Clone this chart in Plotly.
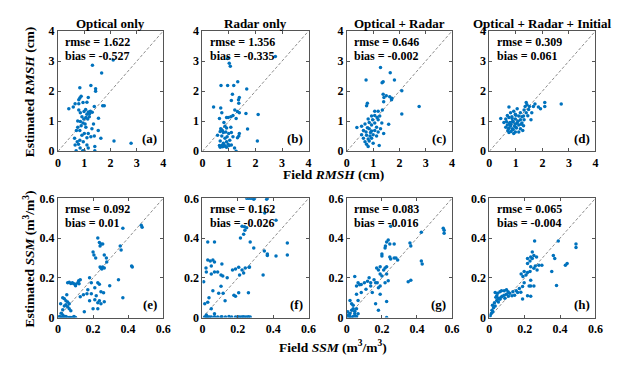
import plotly.graph_objects as go

# ---------------- data ----------------
panel_titles = ["Optical only", "Radar only", "Optical + Radar", "Optical + Radar + Initial"]
panel_tags = ["(a)", "(b)", "(c)", "(d)", "(e)", "(f)", "(g)", "(h)"]
rmse_vals = ["1.622", "1.356", "0.646", "0.309", "0.092", "0.162", "0.083", "0.065"]
bias_vals = ["-0.527", "-0.335", "-0.002", "0.061", "0.01", "-0.026", "-0.016", "-0.004"]

rmsh_ticks = [0, 1, 2, 3, 4]
rmsh_ticklabels = ["0", "1", "2", "3", "4"]
ssm_ticks = [0, 0.2, 0.4, 0.6]
ssm_ticklabels = ["0", "0.2", "0.4", "0.6"]
rmsh_range = [0, 4]
ssm_range = [0, 0.6]

a_x = [1.31,2.10,1.66,1.25,1.43,1.43,0.83,0.88,0.83,1.15,0.79,1.10,0.65,0.79,0.95,0.41,0.58,1.70,1.76,1.38,
       0.79,0.85,0.99,1.05,1.15,1.23,1.30,1.10,1.20,0.91,1.06,0.98,1.13,0.75,0.85,0.95,1.54,1.19,1.35,1.06,
       0.88,0.75,0.70,0.83,1.29,1.15,1.00,1.53,0.91,1.25,1.38,1.10,0.63,1.63,0.83,0.96,0.73,2.13,2.78,0.65,
       0.78,1.10,1.40,0.69,0.94,0.99,1.40,0.84,1.15,1.03]
a_y = [2.86,3.04,2.60,2.19,2.08,2.00,2.11,1.83,1.77,1.79,1.71,1.63,1.58,1.58,1.62,1.41,1.47,1.51,1.51,1.49,
       1.37,1.28,1.32,1.39,1.31,1.33,1.30,1.23,1.25,1.15,1.12,1.07,1.07,1.01,0.99,0.94,1.10,1.15,0.91,0.80,
       0.85,0.80,0.69,0.69,0.75,0.59,0.59,0.69,0.53,0.48,0.51,0.45,0.43,0.43,0.37,0.32,0.32,0.34,0.27,0.21,
       0.23,0.21,0.16,0.02,0.02,0.02,0.02,0.11,0.11,0.91]

b_x = [0.95,1.01,1.05,2.75,0.70,0.95,1.18,1.33,1.67,1.13,1.39,1.36,1.09,1.37,0.42,0.69,1.22,1.32,1.39,1.64,
       0.73,2.10,1.07,0.97,0.91,1.15,1.27,0.64,0.81,0.85,0.91,1.07,1.70,0.69,0.75,0.67,0.79,0.88,0.99,1.09,
       1.39,1.37,0.57,0.73,0.93,1.15,1.32,0.85,1.03,0.67,2.07,0.91,0.79,0.97,0.64,0.73,0.82,0.87,1.09,0.67,
       0.76,0.91,1.27,1.21,1.01]
b_y = [3.09,2.93,2.83,3.15,2.19,2.19,2.19,2.31,2.07,1.90,1.79,1.71,1.69,1.60,1.47,1.44,1.37,1.32,1.28,1.26,
       1.28,1.22,1.15,1.12,1.12,1.19,1.09,1.09,0.96,0.83,0.77,0.80,0.74,0.75,0.69,0.66,0.62,0.64,0.59,0.62,
       0.59,0.51,0.53,0.51,0.48,0.48,0.45,0.43,0.37,0.34,0.34,0.32,0.27,0.23,0.19,0.19,0.21,0.16,0.21,0.13,
       0.15,0.13,0.00,0.11,0.19]

c_x = [1.28,1.65,1.34,0.73,1.81,2.09,1.38,1.50,1.63,1.41,1.71,1.40,1.70,2.75,0.78,0.75,2.09,1.06,1.19,1.35,
       0.94,1.06,1.15,1.25,0.81,0.98,1.19,0.85,1.06,1.33,0.69,0.94,1.59,0.38,0.56,0.78,0.85,1.13,1.28,0.63,
       0.73,0.94,1.06,1.19,1.40,0.56,0.75,0.88,1.00,1.13,0.63,0.81,0.94,0.69,0.85,0.75,0.81,1.23,1.00,0.90,1.38]
c_y = [2.79,2.61,2.28,2.37,2.37,2.01,1.90,1.85,1.81,1.79,1.76,1.65,1.71,1.49,1.60,1.51,1.24,1.33,1.33,1.37,
       1.17,1.19,1.12,1.17,1.07,1.05,1.05,0.96,0.94,0.94,0.91,0.87,0.90,0.79,0.83,0.78,0.75,0.80,0.75,0.69,
       0.64,0.67,0.69,0.64,0.59,0.55,0.53,0.51,0.55,0.51,0.43,0.41,0.43,0.32,0.34,0.23,0.16,0.19,0.27,0.62,2.31]

d_x = [2.71,2.09,2.09,1.93,1.85,1.72,1.66,1.60,1.39,1.42,1.35,1.31,1.39,1.57,0.74,1.05,1.17,0.92,0.80,0.68,
       0.98,1.11,1.23,0.43,0.62,0.74,0.86,0.98,1.17,1.31,0.65,0.78,0.90,1.05,1.23,0.68,0.80,0.95,1.11,1.29,
       0.62,0.74,0.86,1.02,1.17,0.70,0.82,0.98,1.26,0.92,0.74,1.11,0.55,0.82,0.98,1.29,1.48,1.51,
       0.88,1.00,0.76,1.08,0.90,1.20,0.85,1.00,0.72,1.45]
d_y = [1.57,1.62,1.49,1.41,1.47,1.57,1.49,1.28,1.62,1.55,1.49,1.37,1.28,1.05,1.47,1.41,1.28,1.33,1.28,1.19,
       1.23,1.17,1.15,1.09,1.07,1.12,1.09,1.07,1.05,1.05,0.98,0.96,0.98,0.94,0.94,0.87,0.85,0.83,0.87,0.85,
       0.80,0.77,0.75,0.77,0.75,0.69,0.66,0.64,0.69,0.59,0.62,0.64,0.96,0.91,0.91,1.17,1.39,1.49,
       1.00,0.80,0.92,1.00,0.72,0.90,1.15,1.20,0.75,1.18]

e_x = [0.475,0.48,0.37,0.355,0.36,0.227,0.236,0.245,0.255,0.24,0.20,0.205,0.215,0.264,0.276,0.278,0.24,0.245,
       0.255,0.264,0.25,0.42,0.424,0.345,0.37,0.295,0.18,0.19,0.227,0.236,0.21,0.17,0.165,0.145,0.127,0.19,
       0.218,0.21,0.227,0.245,0.236,0.245,0.26,0.18,0.20,0.227,0.15,0.264,0.055,0.064,0.073,0.082,0.09,0.10,
       0.113,0.118,0.127,0.12,0.10,0.027,0.036,0.045,0.055,0.064,0.045,0.036,0.055,0.064,0.073,0.027,0.018,
       0.027,0.036,0.045,0.055,0.064,0.073,0.082,0.009,0.018,0.027,0.091,0.10,0.015,0.05]
e_y = [0.465,0.455,0.45,0.36,0.34,0.40,0.378,0.37,0.37,0.36,0.33,0.315,0.30,0.315,0.30,0.28,0.255,0.25,
       0.255,0.25,0.245,0.26,0.255,0.19,0.10,0.16,0.20,0.175,0.175,0.168,0.15,0.14,0.12,0.115,0.105,0.12,
       0.11,0.09,0.075,0.07,0.085,0.13,0.125,0.085,0.045,0.045,0.03,0.08,0.175,0.178,0.172,0.175,0.17,0.168,
       0.175,0.185,0.19,0.17,0.16,0.10,0.095,0.085,0.078,0.07,0.065,0.058,0.055,0.045,0.035,0.04,0.022,
       0.013,0.005,0.005,0.0,0.0,0.0,0.0,0.005,0.0,0.0,0.005,0.0,0.07,0.115]

f_x = [0.25,0.26,0.27,0.28,0.29,0.295,0.367,0.363,0.352,0.416,0.224,0.238,0.25,0.24,0.233,0.215,0.27,0.35,
       0.367,0.367,0.416,0.48,0.48,0.29,0.03,0.068,0.266,0.187,0.205,0.17,0.224,0.233,0.21,0.343,0.242,0.264,
       0.03,0.044,0.059,0.068,0.02,0.05,0.022,0.05,0.068,0.086,0.105,0.115,0.14,0.11,0.007,0.105,0.117,0.092,
       0.059,0.178,0.187,0.205,0.26,0.128,0.037,0.013,0.03,0.05,0.068,0.022,
       0.013,0.022,0.03,0.04,0.05,0.068,0.086,0.105,0.11,0.13,0.15,0.165,0.187,0.2,0.21,0.22,0.23,0.24,0.25,0.26,0.27]
f_y = [0.6,0.6,0.6,0.6,0.595,0.6,0.6,0.595,0.527,0.49,0.46,0.457,0.452,0.44,0.42,0.40,0.38,0.335,
       0.32,0.312,0.31,0.375,0.315,0.35,0.38,0.38,0.255,0.245,0.254,0.24,0.24,0.225,0.215,0.215,0.25,0.254,
       0.29,0.285,0.29,0.28,0.25,0.26,0.23,0.22,0.23,0.23,0.214,0.21,0.20,0.27,0.18,0.158,0.122,0.122,
       0.135,0.112,0.108,0.125,0.125,0.085,0.10,0.07,0.077,0.045,0.02,0.013,
       0.003,0.003,0.004,0.003,0.003,0.004,0.003,0.003,0.004,0.003,0.005,0.003,0.003,0.004,0.003,0.003,0.004,0.003,0.003,0.004,0.003]

g_x = [0.55,0.555,0.555,0.25,0.425,0.36,0.365,0.236,0.227,0.22,0.218,0.245,0.27,0.2,0.2,0.245,0.25,0.27,0.28,
       0.29,0.17,0.19,0.18,0.21,0.218,0.227,0.19,0.2,0.227,0.236,0.218,0.425,0.43,0.35,0.365,0.045,0.064,0.055,
       0.073,0.082,0.1,0.118,0.127,0.136,0.155,0.164,0.136,0.109,0.082,0.055,0.064,0.173,0.19,0.18,0.19,0.145,
       0.164,0.18,0.227,0.227,0.018,0.027,0.036,0.045,0.027,0.018,0.009,0.018,0.036,0.045,0.055,0.009,0.027,
       0.005,0.045,0.064,0.055,0.036]
g_y = [0.45,0.44,0.425,0.46,0.43,0.375,0.36,0.39,0.38,0.36,0.35,0.37,0.37,0.32,0.31,0.305,0.295,0.30,0.30,
       0.29,0.25,0.256,0.24,0.24,0.25,0.256,0.22,0.21,0.22,0.186,0.175,0.285,0.27,0.18,0.188,0.207,0.175,0.159,
       0.165,0.167,0.175,0.183,0.2,0.175,0.19,0.175,0.159,0.143,0.126,0.118,0.086,0.175,0.159,0.15,0.118,0.126,
       0.07,0.037,0.081,0.0,0.086,0.07,0.062,0.032,0.037,0.021,0.013,0.005,0.005,0.01,0.005,0.0,0.0,
       0.029,0.021,0.02,0.045,0.045]

h_x = [0.49,0.49,0.39,0.256,0.362,0.37,0.44,0.43,0.353,0.38,0.243,0.234,0.216,0.243,0.23,0.252,0.267,0.216,
       0.234,0.252,0.26,0.28,0.297,0.27,0.197,0.216,0.207,0.18,0.19,0.23,0.234,0.225,0.197,0.234,0.252,0.216,
       0.234,0.188,0.188,0.17,0.152,0.133,0.115,0.106,0.097,0.084,0.073,0.066,0.051,0.042,0.033,0.047,0.06,
       0.069,0.084,0.097,0.037,0.042,0.051,0.06,0.029,0.018,0.024,0.015,0.011,0.005,0.02,0.033,0.16,0.178,
       0.128,0.143,0.088,0.108]
h_y = [0.37,0.353,0.386,0.386,0.313,0.297,0.272,0.263,0.232,0.162,0.33,0.305,0.297,0.297,0.285,0.313,0.305,0.272,
       0.256,0.248,0.26,0.264,0.264,0.24,0.232,0.227,0.215,0.22,0.207,0.232,0.188,0.159,0.175,0.159,0.159,0.11,
       0.107,0.094,0.156,0.146,0.135,0.13,0.123,0.13,0.118,0.113,0.107,0.102,0.097,0.11,0.126,0.123,0.13,
       0.135,0.135,0.14,0.102,0.086,0.078,0.092,0.075,0.062,0.05,0.037,0.021,0.01,0.029,0.058,0.126,0.128,
       0.11,0.113,0.098,0.108]

panels_x = [a_x, b_x, c_x, d_x, e_x, f_x, g_x, h_x]
panels_y = [a_y, b_y, c_y, d_y, e_y, f_y, g_y, h_y]

# ---------------- layout geometry ----------------
W, H = 628, 365
col_px = [(56, 163), (203, 311), (350, 457), (495, 603)]
row_px = [(25, 150), (199, 323)]

FONT = "Liberation Serif"
BLUE = "#0072BD"
AXC = "#555555"

fig = go.Figure()
layout = dict(
    width=W, height=H, autosize=False,
    margin=dict(l=0, r=0, t=0, b=0),
    paper_bgcolor="white", plot_bgcolor="white",
    showlegend=False,
    font=dict(family=FONT, color="black"),
)
annotations = []

for i in range(8):
    r, c = divmod(i, 4)
    k = "" if i == 0 else str(i + 1)
    xa, ya = "x" + k, "y" + k
    top = r == 0
    rng = rmsh_range if top else ssm_range
    tv = rmsh_ticks if top else ssm_ticks
    tt = rmsh_ticklabels if top else ssm_ticklabels
    x0, x1 = col_px[c]
    y0, y1 = row_px[r]
    common = dict(range=rng, tickvals=tv, ticktext=tt, showgrid=False, zeroline=False,
                  showline=True, linecolor=AXC, linewidth=1, mirror="ticks",
                  ticks="inside", ticklen=3, tickcolor=AXC,
                  tickfont=dict(family=FONT, size=12, color="black", weight="bold"),
                  fixedrange=True)
    layout["xaxis" + k] = dict(common, domain=[x0 / W, x1 / W], anchor=ya)
    layout["yaxis" + k] = dict(common, domain=[1 - y1 / H, 1 - y0 / H], anchor=xa)

    # 1:1 line
    fig.add_trace(go.Scatter(x=rng, y=rng, mode="lines", xaxis=xa, yaxis=ya,
                             line=dict(color="#8c8c8c", width=1, dash="3px,2px"), hoverinfo="skip"))
    # points
    fig.add_trace(go.Scatter(x=panels_x[i], y=panels_y[i], mode="markers", xaxis=xa, yaxis=ya,
                             marker=dict(color=BLUE, size=3.5, line=dict(width=0))))

    afont = dict(family=FONT, size=12, color="black", weight="bold")
    annotations.append(dict(xref=xa + " domain", yref=ya + " domain", x=0.05, y=0.985,
                            xanchor="left", yanchor="top", showarrow=False,
                            text="rmse = " + rmse_vals[i], font=afont))
    annotations.append(dict(xref=xa + " domain", yref=ya + " domain", x=0.05, y=0.865,
                            xanchor="left", yanchor="top", showarrow=False,
                            text="bias = " + bias_vals[i], font=afont))
    annotations.append(dict(xref=xa + " domain", yref=ya + " domain", x=0.965, y=0.03,
                            xanchor="right", yanchor="bottom", showarrow=False,
                            text=panel_tags[i], font=dict(family=FONT, size=13, color="black", weight="bold")))
    if top:
        annotations.append(dict(xref="paper", yref="paper", x=(x0 + x1) / 2 / W, y=1 - 17 / H,
                                xanchor="center", yanchor="middle", showarrow=False,
                                text=panel_titles[c],
                                font=dict(family=FONT, size=13, color="black", weight="bold")))

labfont = dict(family=FONT, size=13.5, color="black", weight="bold")
annotations += [
    dict(xref="paper", yref="paper", x=27 / W, y=1 - 88 / H, textangle=-90, showarrow=False,
         xanchor="center", yanchor="middle", text="Estimated <i>RMSH</i> (cm)", font=labfont),
    dict(xref="paper", yref="paper", x=27 / W, y=1 - 262 / H, textangle=-90, showarrow=False,
         xanchor="center", yanchor="middle", text="Estimated <i>SSM</i> (m<sup>3</sup>/m<sup>3</sup>)", font=labfont),
    dict(xref="paper", yref="paper", x=336 / W, y=1 - 174 / H, showarrow=False,
         xanchor="center", yanchor="middle", text="Field <i>RMSH</i> (cm)", font=labfont),
    dict(xref="paper", yref="paper", x=336 / W, y=1 - 353 / H, showarrow=False,
         xanchor="center", yanchor="middle", text="Field <i>SSM</i> (m<sup>3</sup>/m<sup>3</sup>)", font=labfont),
]
layout["annotations"] = annotations
fig.update_layout(**layout)
fig.write_html("out.html", config={"displayModeBar": False},
               post_script="document.body.style.margin='0';")
